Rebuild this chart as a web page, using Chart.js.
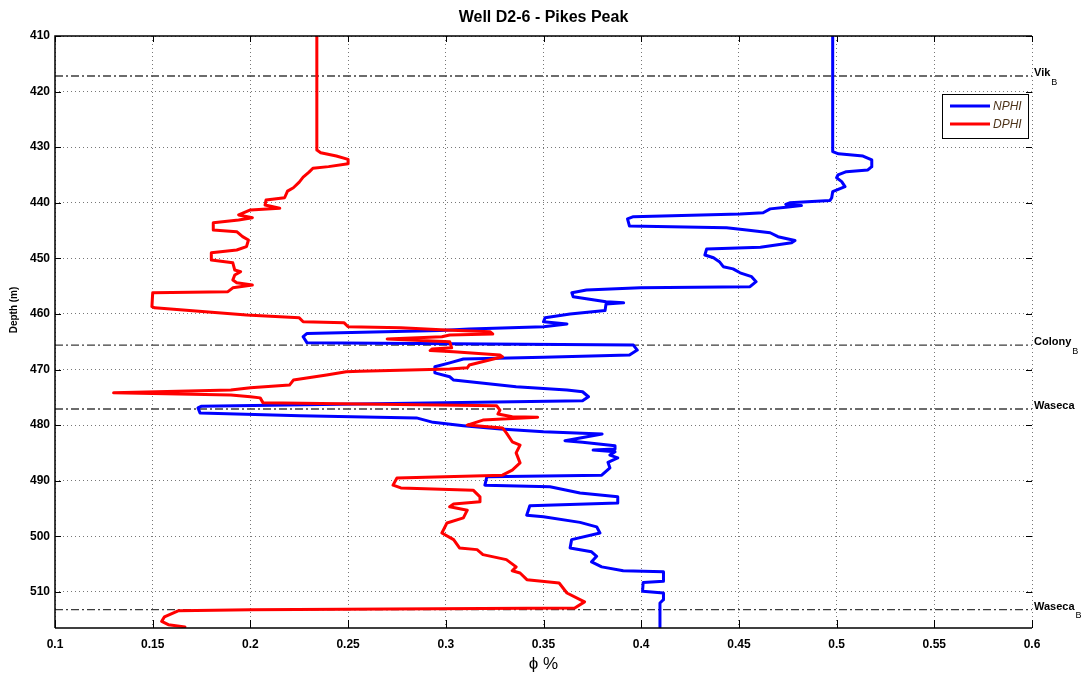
<!DOCTYPE html>
<html>
<head>
<meta charset="utf-8">
<script src="https://cdn.jsdelivr.net/npm/chart.js@4.4.1/dist/chart.umd.min.js"></script>
<style>
  html, body { margin: 0; padding: 0; background: #fff; }
  #wrap { width: 1087px; height: 675px; }
</style>
</head>
<body>
<div id="wrap"><canvas id="logChart" width="1087" height="675"></canvas></div>
<script>
const depthTicks = [410, 420, 430, 440, 450, 460, 470, 480, 490, 500, 510];
const phiTicks = [0.1, 0.15, 0.2, 0.25, 0.3, 0.35, 0.4, 0.45, 0.5, 0.55, 0.6];

// NPHI log (depth m / porosity)
const nphiDepth = [
  410, 430.8, 431.2, 431.6, 432.3, 433.5, 434.1, 434.4, 435.0, 435.5, 436.2, 437.1, 438.0, 439.1, 439.6,
  440.0, 440.3, 440.5, 440.8, 441.1, 441.8, 442.0, 442.5, 442.9, 444.2, 444.5, 444.9, 445.4, 446.1, 446.8,
  447.2, 448.0, 448.3, 449.4, 449.9, 450.6, 451.5, 451.9, 452.6, 453.3, 454.2, 455.1, 455.3, 455.7, 456.2,
  456.9, 457.8, 458.0, 458.2, 459.4, 460.0, 460.7, 461.4, 461.8, 462.3, 462.7, 463.0, 463.5, 464.1, 465.2,
  465.6, 466.5, 467.4, 467.8, 468.1, 468.8, 469.5, 470.6, 471.3, 471.9, 473.1, 473.7, 474.0, 474.9, 475.6,
  476.6, 476.9, 477.8, 478.3, 478.7, 479.5, 480.1, 480.7, 481.2, 481.6, 482.8, 483.1, 483.7, 484.3, 484.5,
  484.8, 485.4, 485.9, 486.7, 487.7, 489.0, 489.3, 490.8, 491.1, 492.2, 492.9, 494.0, 494.5, 496.2, 496.5,
  497.5, 498.3, 499.4, 500.6, 502.1, 502.8, 503.6, 504.6, 505.5, 506.2, 506.4, 508.1, 508.3, 509.9, 510.2,
  511.4, 512.0, 516.3
];
const nphiValue = [
  0.498, 0.498, 0.501, 0.5135, 0.518, 0.518, 0.516, 0.505, 0.5007, 0.500, 0.5026, 0.5043, 0.498, 0.4975, 0.4966,
  0.476, 0.474, 0.482, 0.474, 0.466, 0.4624, 0.4506, 0.396, 0.393, 0.394, 0.4437, 0.454, 0.466, 0.470, 0.4787,
  0.477, 0.461, 0.4335, 0.4326, 0.437, 0.440, 0.442, 0.447, 0.4506, 0.4565, 0.4588, 0.4557, 0.3995, 0.372, 0.3645,
  0.3652, 0.382, 0.391, 0.382, 0.3815, 0.3636, 0.3508, 0.350, 0.362, 0.350, 0.312, 0.297, 0.229, 0.227, 0.229,
  0.396, 0.398, 0.394, 0.350, 0.309, 0.302, 0.2944, 0.2944, 0.302, 0.304, 0.336, 0.362, 0.370, 0.373, 0.370,
  0.175, 0.1732, 0.1742, 0.2254, 0.285, 0.2935, 0.309, 0.328, 0.350, 0.380, 0.361, 0.370, 0.3866, 0.3866, 0.3754,
  0.3866, 0.384, 0.388, 0.383, 0.384, 0.3798, 0.321, 0.320, 0.3533, 0.3687, 0.388, 0.388, 0.343, 0.3414, 0.350,
  0.3687, 0.3772, 0.3789, 0.3644, 0.3636, 0.3746, 0.3772, 0.3746, 0.3798, 0.3908, 0.4114, 0.4114, 0.401, 0.4007, 0.4114,
  0.4114, 0.4096, 0.4096
];

// DPHI log
const dphiDepth = [
  410, 430.5, 431.0, 431.6, 432.2, 433.0, 433.5, 433.8, 434.5, 435.4, 436.3, 437.3, 437.9, 439.1, 439.5,
  440.4, 441.0, 441.3, 442.2, 442.7, 443.1, 443.6, 444.9, 445.2, 446.1, 446.7, 447.9, 448.5, 449.0, 450.3,
  450.8, 452.1, 452.4, 453.0, 453.9, 454.4, 454.8, 455.3, 456.0, 456.2, 458.7, 458.9, 460.2, 460.7, 461.4,
  461.6, 462.3, 462.5, 462.9, 463.2, 463.6, 463.8, 464.1, 464.5, 465.0, 466.1, 466.3, 466.6, 466.8, 467.4,
  467.7, 469.2, 469.7, 469.9, 470.3, 470.4, 471.0, 471.9, 472.8, 473.3, 473.7, 474.2, 474.6, 474.9, 475.1,
  476.0, 476.5, 477.3, 478.0, 478.5, 478.6, 479.1, 480.0, 480.5, 481.4, 483.0, 483.6, 485.0, 486.8, 488.1,
  489.0, 489.5, 490.8, 491.3, 491.7, 492.9, 493.8, 494.2, 494.7, 495.3, 496.7, 497.6, 499.4, 500.6, 502.1,
  502.4, 503.3, 504.2, 505.5, 506.2, 506.6, 507.8, 508.4, 510.2, 511.8, 512.9, 513.2, 513.4, 514.5, 515.3,
  515.9, 516.3
];
const dphiValue = [
  0.234, 0.234, 0.236, 0.244, 0.250, 0.250, 0.240, 0.232, 0.230, 0.227, 0.225, 0.222, 0.219, 0.2175, 0.208,
  0.2075, 0.215, 0.200, 0.194, 0.201, 0.194, 0.181, 0.181, 0.193, 0.196, 0.199, 0.198, 0.193, 0.180, 0.180,
  0.191, 0.192, 0.195, 0.192, 0.191, 0.193, 0.201, 0.191, 0.1885, 0.150, 0.1496, 0.151, 0.198, 0.225, 0.227,
  0.248, 0.250, 0.277, 0.300, 0.3226, 0.324, 0.302, 0.298, 0.270, 0.302, 0.303, 0.293, 0.292, 0.304, 0.3277,
  0.329, 0.312, 0.311, 0.302, 0.256, 0.249, 0.239, 0.222, 0.220, 0.200, 0.190, 0.130, 0.190, 0.200, 0.205,
  0.2065, 0.326, 0.3277, 0.3267, 0.334, 0.347, 0.319, 0.311, 0.329, 0.331, 0.334, 0.338, 0.336, 0.338, 0.334,
  0.329, 0.275, 0.273, 0.277, 0.314, 0.3175, 0.3175, 0.304, 0.302, 0.311, 0.309, 0.3006, 0.298, 0.304, 0.307,
  0.316, 0.319, 0.331, 0.336, 0.334, 0.338, 0.3415, 0.358, 0.362, 0.371, 0.366, 0.200, 0.163, 0.156, 0.1546,
  0.158, 0.1665
];

// formation tops
const topNames = ["Vik", "Colony", "Waseca", "Waseca"];
const topSubs = ["B", "B", "", "B"];
const topDepths = [417.2, 465.6, 477.1, 513.2];

const font = "'Liberation Sans', Arial, sans-serif";

function toPoints(depths, values) {
  return depths.map((d, i) => ({ x: values[i], y: d }));
}

const topSets = topDepths.map((d) => ({
  label: "top",
  data: [{ x: phiTicks[0], y: d }, { x: phiTicks[phiTicks.length - 1], y: d }],
  borderColor: "#3c3c3c",
  borderWidth: 1.3,
  borderDash: [8, 3, 2, 3],
  pointRadius: 0,
  showLine: true,
  order: 3,
}));

const wellDecor = {
  id: "wellDecor",
  afterDraw(chart) {
    const { ctx, chartArea: a, scales } = chart;
    const xs = scales.x;
    const ys = scales.y;
    ctx.save();

    // frame
    ctx.strokeStyle = "#000";
    ctx.lineWidth = 1.5;
    ctx.beginPath();
    ctx.moveTo(a.left, a.bottom);
    ctx.lineTo(a.left, a.top);
    ctx.lineTo(a.right, a.top);
    ctx.moveTo(a.left, a.bottom);
    ctx.lineTo(a.right, a.bottom);
    ctx.stroke();

    // inward ticks
    ctx.lineWidth = 1;
    ctx.beginPath();
    depthTicks.forEach((d) => {
      const y = Math.round(ys.getPixelForValue(d)) + 0.5;
      ctx.moveTo(a.left, y);
      ctx.lineTo(a.left + 6, y);
      ctx.moveTo(a.right, y);
      ctx.lineTo(a.right - 6, y);
    });
    phiTicks.forEach((v) => {
      const x = Math.round(xs.getPixelForValue(v)) + 0.5;
      ctx.moveTo(x, a.bottom);
      ctx.lineTo(x, a.bottom - 8);
      ctx.moveTo(x, a.top);
      ctx.lineTo(x, a.top + 6);
    });
    ctx.stroke();

    // formation labels
    ctx.fillStyle = "#000";
    ctx.textBaseline = "middle";
    ctx.textAlign = "left";
    topDepths.forEach((d, i) => {
      const y = ys.getPixelForValue(d);
      ctx.font = "bold 11px " + font;
      ctx.fillText(topNames[i], a.right + 2, y - 3);
      if (topSubs[i]) {
        const w = ctx.measureText(topNames[i]).width;
        ctx.font = "9px " + font;
        ctx.fillText(topSubs[i], a.right + 3 + w, y + 6);
      }
    });

    // legend box
    const lx = 942, ly = 94, lw = 86, lh = 44;
    ctx.fillStyle = "#fff";
    ctx.fillRect(lx, ly, lw, lh);
    ctx.strokeStyle = "#000";
    ctx.lineWidth = 1;
    ctx.strokeRect(lx + 0.5, ly + 0.5, lw, lh);
    const items = chart.data.datasets.filter((ds) => ds.label !== "top");
    items.forEach((ds, i) => {
      const y = ly + 12 + i * 18;
      ctx.strokeStyle = ds.borderColor;
      ctx.lineWidth = 3;
      ctx.beginPath();
      ctx.moveTo(lx + 8, y);
      ctx.lineTo(lx + 48, y);
      ctx.stroke();
      ctx.fillStyle = "#4d3319";
      ctx.font = "italic 12px " + font;
      ctx.fillText(ds.label, lx + 51, y + 1);
    });

    // title and axis titles
    ctx.fillStyle = "#000";
    ctx.textAlign = "center";
    ctx.font = "bold 16px " + font;
    ctx.fillText("Well D2-6 - Pikes Peak", (a.left + a.right) / 2, 18);
    ctx.font = "17px " + font;
    ctx.fillText("\u03d5 %", (a.left + a.right) / 2, 664);
    ctx.translate(14, 310);
    ctx.rotate(-Math.PI / 2);
    ctx.font = "bold 10px " + font;
    ctx.fillText("Depth (m)", 0, 0);
    ctx.restore();
  },
};

new Chart(document.getElementById("logChart"), {
  type: "scatter",
  data: {
    datasets: [
      {
        label: "NPHI",
        data: toPoints(nphiDepth, nphiValue),
        borderColor: "#0000ff",
        backgroundColor: "#0000ff",
        borderWidth: 3,
        pointRadius: 0,
        showLine: true,
        borderJoinStyle: "round",
        borderCapStyle: "round",
        order: 2,
      },
      {
        label: "DPHI",
        data: toPoints(dphiDepth, dphiValue),
        borderColor: "#ff0000",
        backgroundColor: "#ff0000",
        borderWidth: 3,
        pointRadius: 0,
        showLine: true,
        borderJoinStyle: "round",
        borderCapStyle: "round",
        order: 1,
      },
      ...topSets,
    ],
  },
  options: {
    responsive: false,
    animation: false,
    layout: { padding: { top: 36, right: 55, left: 0, bottom: 0 } },
    plugins: {
      legend: { display: false },
      title: { display: false },
      tooltip: { enabled: false },
    },
    scales: {
      x: {
        type: "linear",
        position: "bottom",
        min: 0.1,
        max: 0.6,
        afterBuildTicks: (scale) => {
          scale.ticks = phiTicks.map((v) => ({ value: v }));
        },
        afterFit: (scale) => {
          scale.height = 47;
        },
        ticks: {
          color: "#000",
          padding: 9,
          maxRotation: 0,
          font: { family: font, size: 12, weight: "bold" },
          callback: (v) => String(Math.round(v * 100) / 100),
        },
        grid: { color: "#777", lineWidth: 1, drawTicks: false },
        border: { display: false, dash: [1, 3] },
      },
      y: {
        type: "linear",
        reverse: true,
        min: 410,
        max: 516.5,
        afterBuildTicks: (scale) => {
          scale.ticks = depthTicks.map((v) => ({ value: v }));
        },
        afterFit: (scale) => {
          scale.width = 55;
        },
        ticks: {
          color: "#000",
          padding: 5,
          font: { family: font, size: 12, weight: "bold" },
        },
        grid: { color: "#777", lineWidth: 1, drawTicks: false },
        border: { display: false, dash: [1, 3] },
      },
    },
  },
  plugins: [wellDecor],
});
</script>
</body>
</html>
